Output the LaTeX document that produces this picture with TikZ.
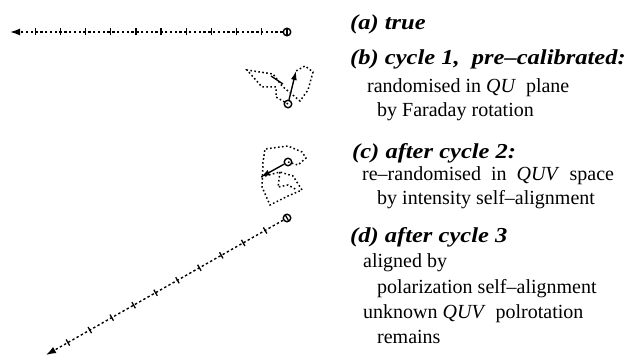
\documentclass[tikz,border=0pt]{standalone}
\usepackage{fontspec}
\setmainfont{Liberation Serif}
\newfontfamily\hdfamily{Liberation Serif}[FakeStretch=1.15, Ligatures=TeX]
\usetikzlibrary{arrows.meta,calc}
\tikzset{
  txt/.style={anchor=base west, inner sep=0pt, font=\fontsize{20}{24}\selectfont},
  hd/.style={txt, font=\fontsize{21.3}{26}\hdfamily\bfseries\itshape},
  origin/.style={circle, draw, line width=1.4pt, minimum size=7.5pt, inner sep=0pt},
  vecline/.style={line width=1.4pt, dash pattern=on 2.4pt off 2.4pt, -{Latex[length=10pt,width=7pt]}},
  resultant/.style={line width=1.4pt, -{Latex[length=9pt,width=6pt]}},
  walk/.style={line width=1.5pt, dash pattern=on 1.6pt off 2.4pt},
  tickmark/.style={line width=1.3pt}
}
\begin{document}
\begin{tikzpicture}[x=1pt,y=-1pt]
\useasboundingbox (0,0) rectangle (632,358);

% (a) true
\node[origin] (Oa) at (287,32) {};
\coordinate (Ta) at (10,32);
\draw[vecline] (Oa) -- (Ta);
\foreach \k in {0,...,11}
  \draw[tickmark] ($(Oa.center)!{\k/11}!(Ta)!3.5pt!90:(Ta)$) -- ($(Oa.center)!{\k/11}!(Ta)!3.5pt!-90:(Ta)$);

% (b) cycle 1
\node[origin] (Ob) at (288,104) {};
\coordinate (Tb) at (296,71);
\draw[walk] (Ob.center) -- (276,97) -- (276,87) -- (262,87) -- (247,70) -- (273,74)
   -- (282,86) -- (300,101) -- (308,90) -- (313,72) -- (305,66) -- (Tb);
\draw[tickmark] (271,76) -- (283,84);
\draw[resultant] (Ob) -- (Tb);

% (c) after cycle 2
\node[origin] (Oc) at (288,162) {};
\coordinate (Tc) at (261,177);
\draw[walk] (Oc.center) -- (298,165) -- (306,158) -- (302,152) -- (288,146) -- (265,149)
   -- (263,162) -- (262,187) -- (270,205) -- (288,196) -- (302,190) -- (293,176)
   -- (280,172) -- (Tc);
\draw[walk] (280,172) -- (278,187) -- (288,185) -- (297,190);
\draw[resultant] (Oc) -- (Tc);

% (d) after cycle 3
\node[origin] (Od) at (287,218) {};
\coordinate (Td) at (46,355);
\draw[vecline] (Od) -- (Td);
\foreach \k in {0,...,10}
  \draw[tickmark] ($(Od.center)!{\k/11}!(Td)!3.5pt!90:(Td)$) -- ($(Od.center)!{\k/11}!(Td)!3.5pt!-90:(Td)$);

% texts
\node[hd]  (la)  at (350,30)  {(a) true};
\node[hd]  (lb)  at (350,65)  {(b) cycle 1,\ \ pre--calibrated:};
\node[txt] (lb1) at (367,93)  {randomised in\ \textit{QU}\ \ plane};
\node[txt] (lb2) at (377,117) {by Faraday rotation};
\node[hd]  (lc)  at (352,159) {(c) after cycle 2:};
\node[txt] (lc1) at (362,181) {re--randomised\ \ in\ \ \textit{QUV}\ \ space};
\node[txt] (lc2) at (377,205) {by intensity self--alignment};
\node[hd]  (ld)  at (350,243) {(d) after cycle 3};
\node[txt] (ld1) at (363,268) {aligned by};
\node[txt] (ld2) at (377,293) {polarization self--alignment};
\node[txt] (ld3) at (363,318) {unknown \textit{QUV}\ \ polrotation};
\node[txt] (ld4) at (377,343) {remains};
\end{tikzpicture}
\end{document}
